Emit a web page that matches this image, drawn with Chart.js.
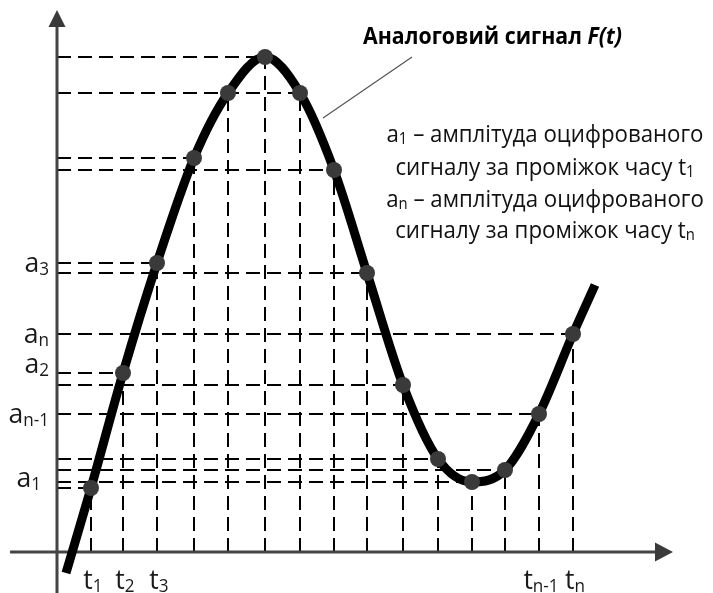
<!DOCTYPE html>
<html>
<head>
<meta charset="utf-8">
<script src="https://cdn.jsdelivr.net/npm/chart.js@4.4.1/dist/chart.umd.min.js"></script>
<style>
  html, body { margin: 0; padding: 0; background: #fff; overflow: hidden; }
  canvas { display: block; }
</style>
</head>
<body>
<canvas id="signalChart" width="713" height="593"></canvas>
<script>
// sampled moments t_k and digitised amplitudes a_k (arbitrary units)
const sampleT = [3.4, 6.6, 10.0, 13.7, 17.1, 20.8, 24.3, 27.7, 31.0, 34.6, 38.1, 41.5, 44.8, 48.2, 51.6];
const sampleA = [6.4, 17.9, 28.9, 39.4, 45.9, 49.5, 45.9, 38.2, 27.9, 16.7, 9.3, 7.0, 8.2, 13.8, 21.8];

// analog signal F(t): start and end of the drawn curve around the samples
const curveStart = [0.9, -2.1];
const curveEnd = [53.8, 26.7];

// axis labels: [main, subscript, sample index]
const yTickLabels = [['a', '1', 0], ['a', '2', 1], ['a', '3', 2], ['a', 'n', 14], ['a', 'n-1', 13]];
const xTickLabels = [['t', '1', 0], ['t', '2', 1], ['t', '3', 2], ['t', 'n-1', 13], ['t', 'n', 14]];

const titleText = 'Аналоговий сигнал ';
const titleFn = 'F(t)';
const noteLines = [
    [['a', false], ['1', true], [' – амплітуда оцифрованого', false]],
    [['сигналу за проміжок часу t', false], ['1', true]],
    [['a', false], ['n', true], [' – амплітуда оцифрованого', false]],
    [['сигналу за проміжок часу t', false], ['n', true]]
];

// leader from the curve to the title
const leaderFrom = [26.6, 43.4];
const leaderTo = [35.5, 49.5];

// axis extents
const axisT = [-4.7, 61.6];
const axisF = [-4.1, 54.2];

const FAMILY = '"Open Sans", "Noto Sans", sans-serif';

const curveData = [{ x: curveStart[0], y: curveStart[1] }]
    .concat(sampleT.map((t, i) => ({ x: t, y: sampleA[i] })))
    .concat([{ x: curveEnd[0], y: curveEnd[1] }]);
const sampleData = sampleT.map((t, i) => ({ x: t, y: sampleA[i] }));

// draw text made of normal / subscript runs
const runFont = (sub, size, weight, italic) =>
    (italic ? 'italic ' : '') + weight + ' ' + (sub ? Math.round(size * 0.66) : size) + 'px ' + FAMILY;

const runsWidth = (ctx, runs, size, weight) => {
    let w = 0;
    runs.forEach(r => {
        ctx.font = runFont(r[1], size, weight, r[2]);
        w += ctx.measureText(r[0]).width;
    });
    return w;
};

// hScale squeezes the text sideways (the original face is narrower)
const drawRuns = (ctx, runs, x, y, size, weight, align, hScale) => {
    const k = hScale || 1;
    const w = runsWidth(ctx, runs, size, weight) * k;
    const left = align === 'center' ? x - w / 2 : align === 'right' ? x - w : x;
    ctx.save();
    ctx.translate(left, y);
    ctx.scale(k, 1);
    ctx.textAlign = 'left';
    ctx.textBaseline = 'alphabetic';
    let cx = 0;
    runs.forEach(r => {
        ctx.font = runFont(r[1], size, weight, r[2]);
        ctx.fillText(r[0], cx, r[1] ? size * 0.09 : 0);
        cx += ctx.measureText(r[0]).width;
    });
    ctx.restore();
};

const signalDecor = {
    id: 'signalDecor',
    beforeDraw: (chart) => {
        const ctx = chart.ctx;
        ctx.save();
        ctx.fillStyle = '#fff';
        ctx.fillRect(0, 0, chart.width, chart.height);
        ctx.restore();
    },
    beforeDatasetsDraw: (chart) => {
        const ctx = chart.ctx;
        const xs = chart.scales.x, ys = chart.scales.y;
        const x0 = xs.getPixelForValue(0), y0 = ys.getPixelForValue(0);
        ctx.save();

        // dashed projections onto both axes
        ctx.strokeStyle = '#000';
        ctx.lineWidth = 2;
        ctx.setLineDash([14, 7]);
        sampleT.forEach((t, i) => {
            const px = xs.getPixelForValue(t), py = ys.getPixelForValue(sampleA[i]);
            ctx.beginPath();
            ctx.moveTo(x0, py);
            ctx.lineTo(px, py);
            ctx.stroke();
            ctx.beginPath();
            ctx.moveTo(px, y0);
            ctx.lineTo(px, py);
            ctx.stroke();
        });
        ctx.setLineDash([]);

        // axes with arrows
        ctx.strokeStyle = '#444';
        ctx.fillStyle = '#3a3a3a';
        ctx.lineWidth = 3;
        const yTop = ys.getPixelForValue(axisF[1]);
        const xRight = xs.getPixelForValue(axisT[1]);
        ctx.beginPath();
        ctx.moveTo(x0, ys.getPixelForValue(axisF[0]));
        ctx.lineTo(x0, yTop + 14);
        ctx.moveTo(xs.getPixelForValue(axisT[0]), y0);
        ctx.lineTo(xRight - 14, y0);
        ctx.stroke();
        ctx.beginPath();
        ctx.moveTo(x0, yTop);
        ctx.lineTo(x0 - 8.5, yTop + 17);
        ctx.lineTo(x0 + 8.5, yTop + 17);
        ctx.closePath();
        ctx.moveTo(xRight, y0);
        ctx.lineTo(xRight - 18, y0 - 9.5);
        ctx.lineTo(xRight - 18, y0 + 9.5);
        ctx.closePath();
        ctx.fill();

        // leader line to the title
        ctx.strokeStyle = '#555';
        ctx.lineWidth = 1.2;
        ctx.beginPath();
        ctx.moveTo(xs.getPixelForValue(leaderFrom[0]), ys.getPixelForValue(leaderFrom[1]));
        ctx.lineTo(xs.getPixelForValue(leaderTo[0]), ys.getPixelForValue(leaderTo[1]));
        ctx.stroke();
        ctx.restore();
    },
    afterDraw: (chart) => {
        const ctx = chart.ctx;
        const xs = chart.scales.x, ys = chart.scales.y;
        const x0 = xs.getPixelForValue(0), y0 = ys.getPixelForValue(0);
        ctx.save();
        ctx.fillStyle = '#1a1a1a';

        // amplitude labels on the y axis (a1, a2 are lifted to clear each other)
        const liftY = { '1': -10, '2': -9 };
        const shiftX = { '1': -8 };
        yTickLabels.forEach(l => {
            const py = ys.getPixelForValue(sampleA[l[2]]) + 9 + (liftY[l[1]] || 0);
            drawRuns(ctx, [[l[0], false], [l[1], true]], x0 - 8 + (shiftX[l[1]] || 0), py, 28, 'normal', 'right', 0.95);
        });

        // time labels under the x axis
        xTickLabels.forEach(l => {
            const px = xs.getPixelForValue(sampleT[l[2]]) + 2;
            drawRuns(ctx, [[l[0], false], [l[1], true]], px, y0 + 37, 28, 'normal', 'center', 0.95);
        });

        // title, sized by cap height and squeezed to its width
        ctx.fillStyle = '#000';
        const titleRuns = [[titleText, false, false], [titleFn, false, true]];
        const tSize = 22.5;
        drawRuns(ctx, titleRuns, 363, 44, tSize, 'bold', 'left', 259 / runsWidth(ctx, titleRuns, tSize, 'bold'));

        // explanation block
        ctx.fillStyle = '#111';
        const nSize = 24;
        const k = 317 / runsWidth(ctx, noteLines[0], nSize, 'normal');
        const baselines = [142, 175, 207, 238];
        noteLines.forEach((line, i) => drawRuns(ctx, line, 545, baselines[i], nSize, 'normal', 'center', k));
        ctx.restore();
    }
};

document.addEventListener('DOMContentLoaded', () => {
    new Chart(document.getElementById('signalChart'), {
        type: 'scatter',
        data: {
            datasets: [{
                label: 'F(t)',
                data: curveData,
                showLine: true,
                borderColor: '#000',
                borderWidth: 9,
                pointRadius: 0,
                cubicInterpolationMode: 'monotone',
                order: 2
            }, {
                label: 'a(t)',
                data: sampleData,
                showLine: false,
                pointRadius: 8,
                pointBackgroundColor: '#3a3a3a',
                pointBorderWidth: 0,
                order: 1
            }]
        },
        options: {
            responsive: false,
            devicePixelRatio: 1,
            animation: false,
            events: [],
            layout: { padding: 0, autoPadding: false },
            scales: {
                x: { type: 'linear', min: -5.7, max: 65.6, display: false },
                y: { type: 'linear', min: -4.1, max: 55.2, display: false }
            },
            plugins: {
                legend: { display: false },
                tooltip: { enabled: false }
            }
        },
        plugins: [signalDecor]
    });
});
</script>
</body>
</html>
